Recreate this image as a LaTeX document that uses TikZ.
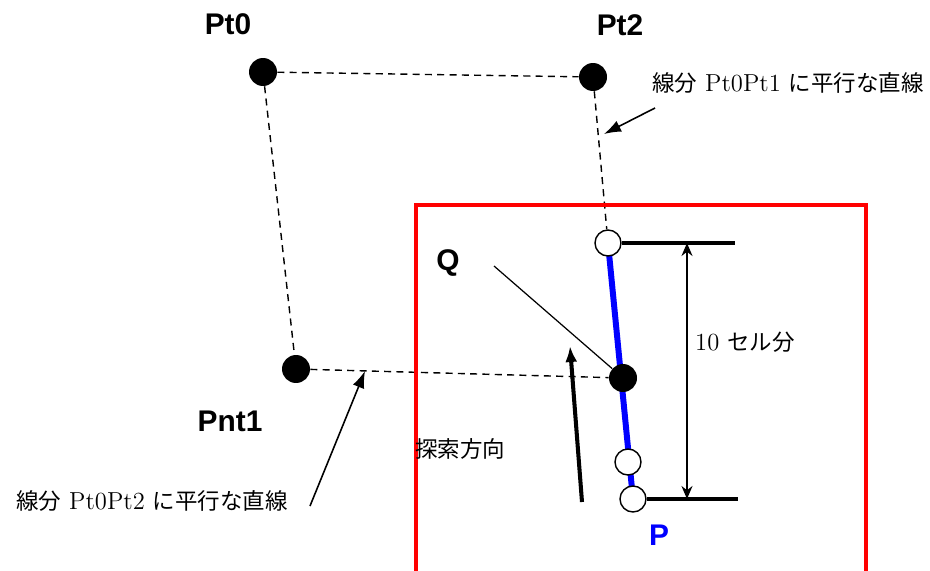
\documentclass[tikz,border=0pt]{standalone}
\usepackage{fontspec}
\newfontfamily\jpfont{Noto Sans CJK JP}
\newfontfamily\lblfont{Liberation Sans}
\usepackage{xcolor}
\usepackage{tikz}
\usetikzlibrary{arrows.meta,positioning,backgrounds}

\newcommand{\jp}[1]{{\jpfont\fontsize{12.8}{15}\selectfont #1}}

\tikzset{
  bigdot/.style={circle,fill=black,inner sep=0pt,minimum size=0.56cm},
  opendot/.style={circle,draw=black,fill=white,line width=0.8pt,inner sep=0pt,minimum size=0.52cm},
  ptlabel/.style={font=\lblfont\bfseries\fontsize{17}{20}\selectfont},
  note/.style={font=\fontsize{14}{16}\selectfont,inner sep=0pt},
  guide/.style={line width=0.8pt,dash pattern=on 4pt off 3pt},
  pointer/.style={line width=0.9pt,-{Latex[length=0.34cm,width=0.24cm]}},
  tick/.style={line width=2.2pt},
}

\begin{document}
\begin{tikzpicture}[x=0.02cm,y=-0.02cm]
\useasboundingbox (0,0) rectangle (930,571);
% search area
\draw[red,line width=2.3pt] (416,580) -- (416,205) -- (866,205) -- (866,580);
% points
\node[bigdot] (pt0) at (263,72) {};
\node[bigdot] (pt2) at (593,77) {};
\node[bigdot] (pnt1) at (296,369) {};
\node[bigdot] (q) at (623,378) {};
\node[opendot] (c1) at (608,243) {};
\node[opendot] (c2) at (628,462) {};
\node[opendot] (c3) at (633,499) {};
\node[ptlabel] (pt0l) at (228,24) {Pt0};
\node[ptlabel] (pt2l) at (620,25) {Pt2};
\node[ptlabel] (pnt1l) at (230,421) {Pnt1};
\node[ptlabel] (ql) at (448,263) {Q};
\node[ptlabel,text=blue] (pl) at (659,535) {P};
% guide lines
\begin{scope}[on background layer]
\draw[guide] (pt0) -- (pt2);
\draw[guide] (pt0) -- (pnt1);
\draw[guide] (pt2) -- (c1);
\draw[guide] (pnt1) -- (q);
\draw[blue,line width=3.4pt] (c1.center) -- (c3.center);
\end{scope}
% cell range
\coordinate (tickt) at (735,243);
\coordinate (tickb) at (738,499);
\draw[tick] (c1) -- (tickt);
\draw[tick] (c3) -- (tickb);
\coordinate (dimt) at (687,243);
\coordinate (dimb) at (687,499);
\draw[line width=0.9pt,{Stealth[length=0.26cm,width=0.22cm]}-{Stealth[length=0.26cm,width=0.22cm]}] (dimt) -- (dimb);
\node[note] (cells) at (745,342) {10 \jp{セル分}};
% Q pointer
\coordinate (qtail) at (494,266);
\draw[line width=0.7pt] (qtail) -- (q);
% search direction
\coordinate (dirs) at (582,502);
\coordinate (dire) at (570,346);
\draw[line width=2.3pt,-{Latex[length=0.32cm,width=0.24cm]}] (dirs) -- (dire);
\node[note] (dirl) at (460,449) {\jp{探索方向}};
% notes
\node[note] (note1) at (788,83) {\jp{線分} Pt0Pt1 \jp{に平行な直線}};
\coordinate (n1s) at (655,108);
\coordinate (n1e) at (604,134);
\draw[pointer] (n1s) -- (n1e);
\node[note] (note2) at (152,501) {\jp{線分} Pt0Pt2 \jp{に平行な直線}};
\coordinate (n2s) at (310,506);
\coordinate (n2e) at (365,371);
\draw[pointer] (n2s) -- (n2e);
\end{tikzpicture}
\end{document}
